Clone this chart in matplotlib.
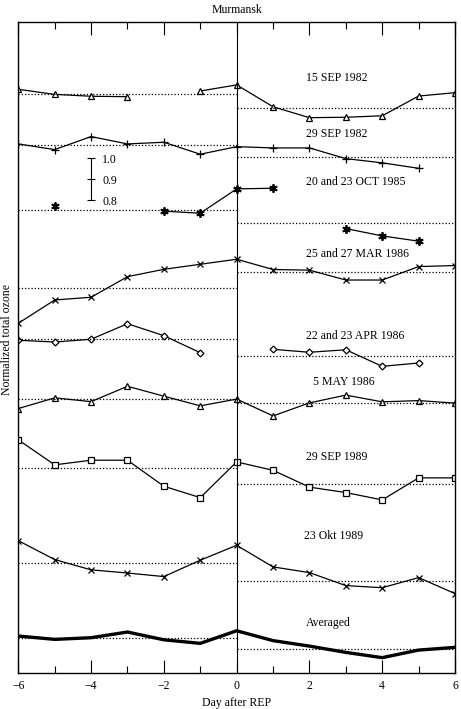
import numpy as np
import matplotlib.pyplot as plt

plt.rcParams['font.family'] = ['Liberation Serif', 'DejaVu Serif']

nan = np.nan
days = np.arange(-6, 7)

# normalized total ozone per event (nan = no measurement)
sep15_1982 = [1.019, 0.995, 0.986, 0.984, nan, 1.011, 1.040, 0.936, 0.884, 0.886, 0.893, 0.987, 1.003]
sep29_1982 = [1.006, 0.979, 1.041, 1.006, 1.014, 0.957, 0.993, 0.987, 0.987, 0.936, 0.916, 0.890, nan]
oct_1985 = [nan, 1.019, nan, nan, 0.994, 0.984, 1.100, 1.103, nan, 0.911, 0.876, 0.851, nan]
mar_1986 = [0.834, 0.945, 0.958, 1.056, 1.091, 1.115, 1.139, 1.090, 1.087, 1.040, 1.040, 1.104, 1.109]
apr_1986 = [0.994, 0.986, 0.999, 1.073, 1.016, 0.935, nan, 0.951, 0.937, 0.949, 0.870, 0.886, nan]
may5_1986 = [0.954, 1.005, 0.987, 1.060, 1.013, 0.967, 0.999, 0.919, 0.981, 1.018, 0.986, 0.992, 0.980]
sep29_1989 = [1.135, 1.016, 1.038, 1.038, 0.914, 0.860, 1.030, 0.990, 0.910, 0.884, 0.849, 0.954, 0.954]
okt23_1989 = [1.106, 1.016, 0.967, 0.952, 0.935, 1.013, 1.084, 0.981, 0.954, 0.892, 0.882, 0.930, 0.854]
averaged = [1.011, 0.995, 1.003, 1.030, 0.993, 0.976, 1.036, 0.989, 0.963, 0.933, 0.908, 0.944, 0.957]

labels = ['15 SEP 1982', '29 SEP 1982', '20 and 23 OCT 1985', '25 and 27 MAR 1986',
          '22 and 23 APR 1986', '5 MAY 1986', '29 SEP 1989', '23 Okt 1989', 'Averaged']
series = [sep15_1982, sep29_1982, oct_1985, mar_1986, apr_1986, may5_1986,
          sep29_1989, okt23_1989, averaged]
# vertical shift of each curve in the stack
offsets = [1.760, 1.513, 1.205, 0.831, 0.590, 0.305, -0.025, -0.476, -0.835]

scale_ticks = [0.8, 0.9, 1.0]
scale_offset = 1.452

# drawing style per curve
markers = ['^', '+', (6, 2, 0), 'x', 'D', '^', 's', 'x', None]
msizes = [5, 6, 6, 5, 3.5, 5, 5, 5, 0]
widths = [0.9] * 8 + [2.4]
label_pos = [(1.90, 2.835), (1.90, 2.565), (1.90, 2.340), (1.90, 1.995), (1.90, 1.606),
             (2.10, 1.386), (1.90, 1.030), (1.86, 0.654), (1.90, 0.240)]

fig = plt.figure(figsize=(4.61, 7.09), dpi=100)
ax = fig.add_axes([0.0397, 0.0508, 0.9473, 0.9186])

for vals, off, m, ms, lw, lab, pos in zip(series, offsets, markers, msizes, widths, labels, label_pos):
    v = np.array(vals)
    ax.plot(days, v + off, color='black', lw=lw, marker=m, ms=ms, mfc='white',
            mec='black', mew=0.9 if m != (6, 2, 0) else 1.3)
    # mean before and after the event (day 0 excluded)
    before = np.nanmean(v[days < 0])
    after = np.nanmean(v[days > 0])
    ax.plot([-6, 0], [before + off] * 2, color='black', lw=0.9, ls=(0, (1, 1.6)))
    ax.plot([0, 6], [after + off] * 2, color='black', lw=0.9, ls=(0, (1, 1.6)))
    ax.text(pos[0], pos[1], lab, fontsize=8.5, ha='left', va='center')

ax.axvline(0, color='black', lw=0.8)

# scale bar
sb = np.array(scale_ticks) + scale_offset
ax.errorbar([-4], [sb[1]], yerr=[[sb[1] - sb[0]], [sb[2] - sb[1]]], color='black',
            lw=0.8, capsize=3, capthick=0.8, marker='_', ms=6, mew=0.8)
for t, y in zip(scale_ticks, sb):
    ax.text(-3.7, y - 0.01, '%.1f' % t, fontsize=8.5, ha='left', va='center')

ax.set_xlim(-6, 6)
ax.set_ylim(0, 3.101)
ax.set_xticks(range(-6, 7, 2))
ax.set_xticks(range(-5, 6, 2), minor=True)
ax.set_yticks([])
ax.tick_params(which='major', direction='in', top=True, length=9.4, width=0.8, pad=5, labelsize=8.5)
ax.tick_params(which='minor', direction='in', top=True, length=4.7, width=0.8)
for s in ax.spines.values():
    s.set_linewidth(1.0)

fig.text(237 / 461, 1 - 10 / 709, 'Murmansk', fontsize=8.5, ha='center', va='center')
fig.text(237 / 461, 1 - 702.7 / 709, 'Day after REP', fontsize=8.5, ha='center', va='center')
fig.text(7 / 461, 1 - 340 / 709, 'Normalized total ozone', fontsize=8.5, rotation=90,
         ha='center', va='center')

fig.savefig('out.png', dpi=100)
